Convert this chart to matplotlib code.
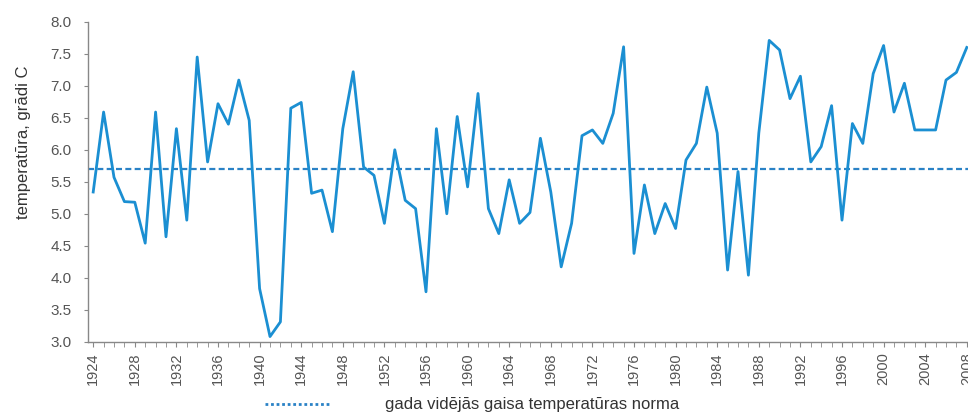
import numpy as np
import matplotlib
matplotlib.use("Agg")
import matplotlib.pyplot as plt
from matplotlib.ticker import MultipleLocator, FormatStrFormatter
from matplotlib.lines import Line2D

plt.rcParams['font.family'] = ['Liberation Sans', 'DejaVu Sans']

# annual mean air temperature, 1924-2008
years = list(range(1924, 2009))
temps = [5.34, 6.59, 5.57, 5.19, 5.18, 4.54, 6.59, 4.64, 6.33, 4.90,
         7.45, 5.81, 6.72, 6.40, 7.09, 6.46, 3.83, 3.08, 3.31, 6.65,
         6.74, 5.32, 5.37, 4.72, 6.33, 7.22, 5.73, 5.60, 4.85, 6.00,
         5.21, 5.08, 3.78, 6.33, 5.00, 6.52, 5.42, 6.88, 5.08, 4.69,
         5.53, 4.85, 5.02, 6.18, 5.34, 4.17, 4.85, 6.22, 6.31, 6.10,
         6.57, 7.61, 4.38, 5.45, 4.69, 5.16, 4.77, 5.84, 6.10, 6.98,
         6.26, 4.12, 5.66, 4.04, 6.26, 7.71, 7.56, 6.80, 7.15, 5.81,
         6.05, 6.69, 4.90, 6.41, 6.10, 7.19, 7.63, 6.59, 7.04, 6.31,
         6.31, 6.31, 7.09, 7.21, 7.60]
norm = 5.7
norm_label = "gada vidējās gaisa temperatūras norma"
y_label = "temperatūra, grādi C"

line_col = '#1b8fd2'
norm_col = '#2a82c6'
grey = '#555555'

fig = plt.figure(figsize=(9.68, 4.17), dpi=100)
ax = fig.add_axes([88 / 968, 0.1806, 884 / 968, 0.767])

ax.plot(years, temps, color=line_col, lw=2.0, zorder=3)
ax.plot([1923.5, 2008.5], [norm, norm], color=norm_col,
        lw=1.6, ls=(0, (2.7, 1.5)), zorder=2)

ax.set_xlim(1923.5, 2008.5)
ax.set_ylim(3.0, 8.0)
ax.yaxis.set_major_locator(MultipleLocator(0.5))
ax.yaxis.set_major_formatter(FormatStrFormatter('%.1f'))
ax.set_xticks(years[::4])
ax.xaxis.set_minor_locator(MultipleLocator(1))
ax.tick_params(axis='x', which='both', direction='out', length=3.5,
               color='#888888', labelsize=10.5, labelcolor=grey, rotation=90, pad=4)
ax.tick_params(axis='y', direction='out', length=3, color='#888888',
               labelsize=11, labelcolor=grey, pad=9)

for s in ['top', 'right']:
    ax.spines[s].set_visible(False)
for s in ['left', 'bottom']:
    ax.spines[s].set_color('#888888')
    ax.spines[s].set_linewidth(1.0)

ax.set_ylabel(y_label, fontsize=12, color='#333333')
ax.yaxis.set_label_coords(-0.064, 0.625)

handle = Line2D([], [], color=norm_col, lw=2.0, ls=(0, (1.0, 1.0)))
fig.legend([handle], [norm_label], loc='center left',
           bbox_to_anchor=(265 / 968, 1 - 405 / 417), frameon=False,
           borderpad=0, borderaxespad=0,
           handlelength=3.9, handletextpad=3.3, fontsize=12,
           labelcolor='#333333')

fig.savefig('out.png', dpi=100)
